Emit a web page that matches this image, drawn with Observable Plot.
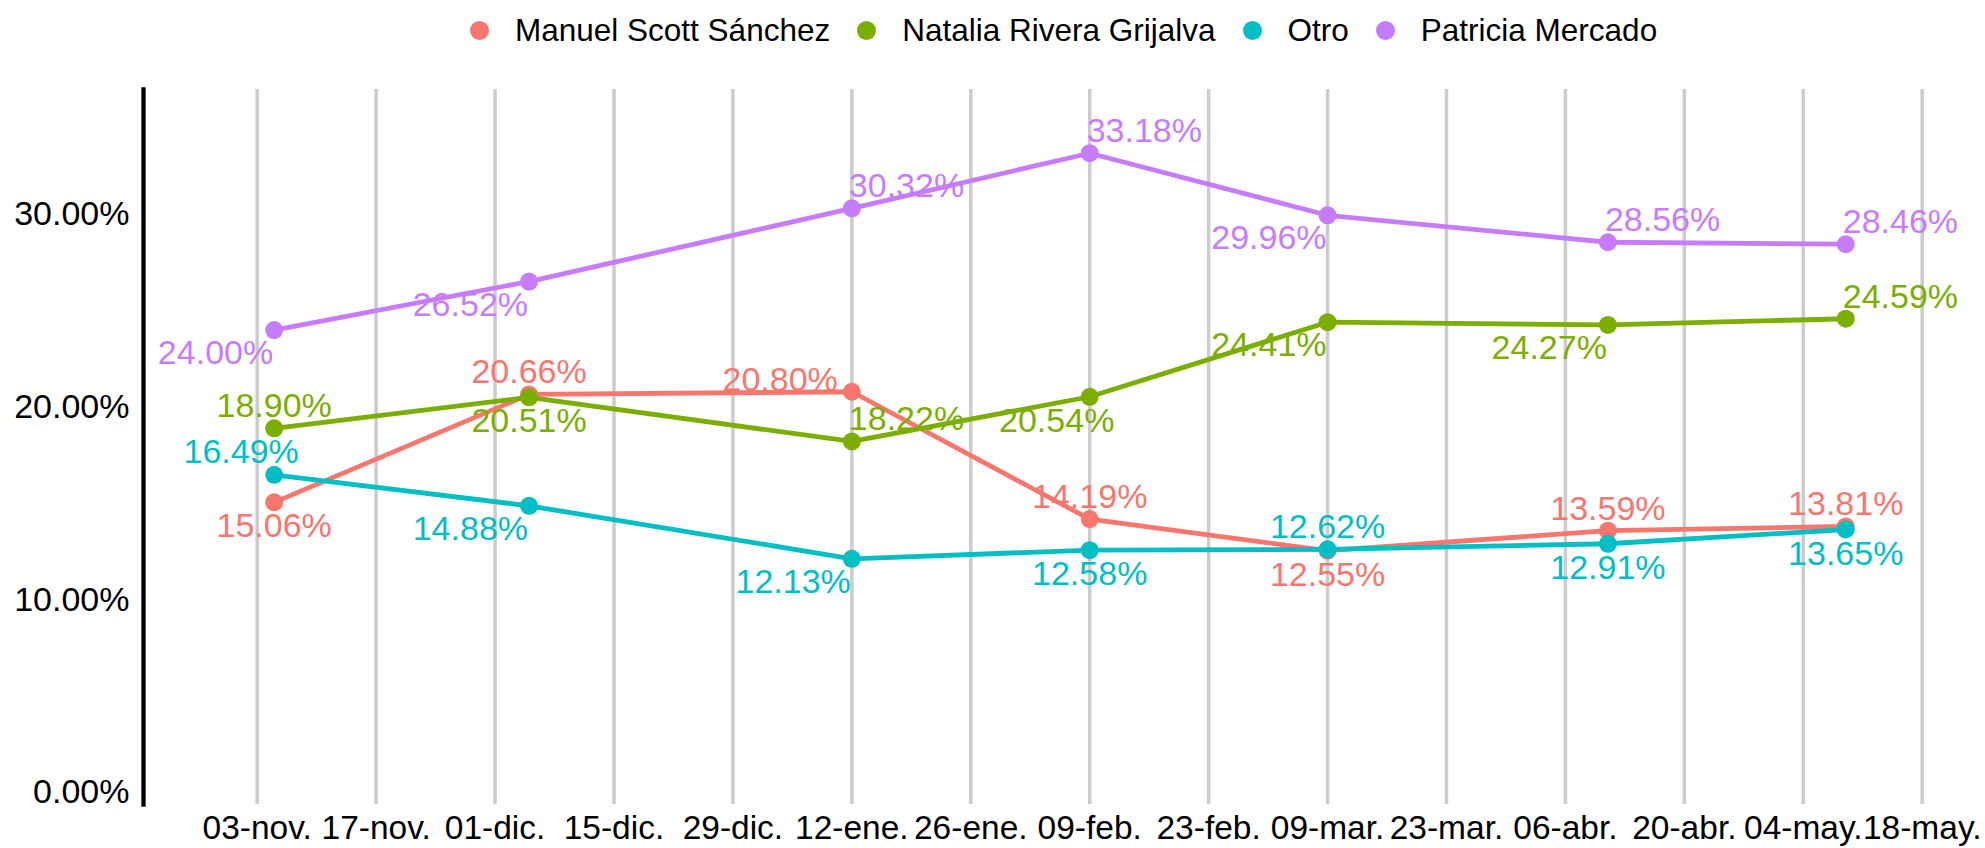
<!DOCTYPE html>
<html>
<head>
<meta charset="utf-8">
<script src="https://cdn.jsdelivr.net/npm/d3@7"></script>
<script src="https://cdn.jsdelivr.net/npm/@observablehq/plot@0.6"></script>
<style>
  html, body { margin: 0; padding: 0; background: #fff; }
  body { width: 1985px; height: 848px; overflow: hidden; font-family: "Liberation Sans", Arial, sans-serif; }
  #legend { height: 60px; display: flex; align-items: center; padding-left: 470px; box-sizing: border-box; }
  .item { display: flex; align-items: center; font-size: 31.5px; color: #000; margin-right: 27px; }
  .dot { width: 19px; height: 19px; border-radius: 50%; margin-right: 26px; }
  #chart svg { display: block; }
</style>
</head>
<body>
<div id="legend"></div>
<div id="chart"></div>
<script>
// ---- data ----
const seriesNames = ["Manuel Scott Sánchez", "Natalia Rivera Grijalva", "Otro", "Patricia Mercado"];
const seriesColors = ["#F8766D", "#7CAE00", "#00BFC4", "#C77CFF"];
const surveyDates = ["2020-11-05", "2020-12-05", "2021-01-12", "2021-02-09", "2021-03-09", "2021-04-11", "2021-05-09"];
const manuel   = [15.06, 20.66, 20.80, 14.19, 12.55, 13.59, 13.81];
const natalia  = [18.90, 20.51, 18.22, 20.54, 24.41, 24.27, 24.59];
const otro     = [16.49, 14.88, 12.13, 12.58, 12.62, 12.91, 13.65];
const patricia = [24.00, 26.52, 30.32, 33.18, 29.96, 28.56, 28.46];
const breakDates = ["2020-11-03", "2020-11-17", "2020-12-01", "2020-12-15", "2020-12-29", "2021-01-12", "2021-01-26",
  "2021-02-09", "2021-02-23", "2021-03-09", "2021-03-23", "2021-04-06", "2021-04-20", "2021-05-04", "2021-05-18"];
const breakLabels = ["03-nov.", "17-nov.", "01-dic.", "15-dic.", "29-dic.", "12-ene.", "26-ene.",
  "09-feb.", "23-feb.", "09-mar.", "23-mar.", "06-abr.", "20-abr.", "04-may.", "18-may."];
const yTicks = [0, 10, 20, 30];

// label placement per point (layout only)
const placeManuel   = ["below", "above", "left", "above", "below", "above", "above"];
const placeNatalia  = ["above", "below", "aboveRight", "belowShift", "belowLeft", "belowLeft", "aboveRight"];
const placeOtro     = ["aboveShift", "belowLeft", "belowLeft", "below", "above", "below", "below"];
const placePatricia = ["belowLeft", "belowLeft", "aboveRight", "aboveRight", "belowLeft", "aboveRight", "aboveRight"];

// ---- build table ----
const seriesValues = [manuel, natalia, otro, patricia];
const seriesPlace = [placeManuel, placeNatalia, placeOtro, placePatricia];
const parse = d3.utcParse("%Y-%m-%d");
const rows = [];
seriesNames.forEach((name, s) => {
  seriesValues[s].forEach((v, i) => {
    rows.push({series: name, date: parse(surveyDates[i]), value: v, place: seriesPlace[s][i], label: v.toFixed(2) + "%"});
  });
});
const breaks = breakDates.map(parse);
const labelByTime = new Map(breaks.map((d, i) => [+d, breakLabels[i]]));

const placements = {
  above:      {textAnchor: "middle", dx: 0,   dy: -11},
  below:      {textAnchor: "middle", dx: 0,   dy: 35},
  aboveRight: {textAnchor: "start",  dx: -3,  dy: -11},
  belowLeft:  {textAnchor: "end",    dx: -1,  dy: 34},
  left:       {textAnchor: "end",    dx: -14, dy: -1},
  aboveShift: {textAnchor: "middle", dx: -33, dy: -12},
  belowShift: {textAnchor: "middle", dx: -33, dy: 35}
};

const labelMarks = Object.entries(placements).map(([key, p]) =>
  Plot.text(rows.filter(r => r.place === key), {
    x: "date", y: "value", text: "label", fill: "series",
    textAnchor: p.textAnchor, dx: p.dx, dy: p.dy, lineAnchor: "bottom",
    fontSize: 34
  })
);

// ---- legend ----
const legend = d3.select("#legend");
seriesNames.forEach((name, i) => {
  const it = legend.append("div").attr("class", "item");
  it.append("div").attr("class", "dot").style("background", seriesColors[i]);
  it.append("span").text(name);
});

// ---- chart ----
const chart = Plot.plot({
  width: 1985,
  height: 788,
  marginLeft: 143,
  marginRight: 0,
  marginTop: 29,
  marginBottom: 44,
  style: {fontFamily: "'Liberation Sans', Arial, sans-serif", background: "#fff", color: "#000"},
  x: {type: "utc", domain: [breaks[0], breaks[breaks.length - 1]], range: [256.7, 1921.7]},
  y: {domain: [0, 30], range: [732, 154]},
  color: {domain: seriesNames, range: seriesColors},
  marks: [
    Plot.ruleX(breaks, {stroke: "#cccccc", strokeWidth: 3.5}),
    Plot.frame({anchor: "left", stroke: "#000", strokeWidth: 4.3}),
    Plot.axisY({ticks: yTicks, tickSize: 0, tickPadding: 14, fontSize: 34, fill: "#000",
      tickFormat: d => d.toFixed(2) + "%", label: null}),
    Plot.axisX({ticks: breaks, tickSize: 0, tickPadding: 11, fontSize: 33.5, fill: "#000",
      tickFormat: d => labelByTime.get(+d), label: null}),
    Plot.line(rows, {x: "date", y: "value", z: "series", stroke: "series", strokeWidth: 4.8}),
    Plot.dot(rows, {x: "date", y: "value", fill: "series", r: 9}),
    ...labelMarks
  ]
});
document.getElementById("chart").appendChild(chart);
</script>
</body>
</html>
